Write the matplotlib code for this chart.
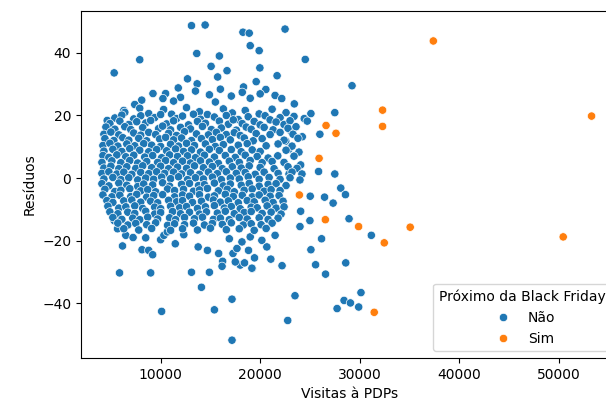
import matplotlib

matplotlib.use("Agg")
import matplotlib.pyplot as plt
import pandas as pd
import seaborn as sns

# Pontos fora do período da Black Friday: (visitas à PDP, resíduo)
nao_bordas = [
    (13100, 48.7), (14470, 48.9), (18270, 46.6), (18900, 46.3), (22500, 47.6),
    (19000, 42.3), (13630, 39.8), (7900, 37.8), (15900, 39.0), (19900, 40.7),
    (24530, 37.9), (5330, 33.6), (15070, 35.7), (16670, 34.3), (19970, 35.2),
    (15730, 32.3), (12700, 31.7), (13670, 30.1), (19600, 30.8), (21700, 32.7),
    (18330, 29.1), (29230, 29.5), (11770, 28.8), (20570, 28.3), (9230, 27.0),
    (10500, 27.0), (21500, 26.4), (8100, 24.9), (10230, 25.4), (22170, 25.4),
    (7400, 23.5), (23430, 23.7), (6300, 21.6), (25100, 20.6), (27500, 20.9),
    (4630, 18.4), (24430, 19.0), (24730, 18.2), (23100, 15.0), (24230, 13.2),
    (26000, 14.0), (22570, 11.8), (22870, 9.2), (21770, 7.1), (24070, 4.2),
    (25870, 2.1), (27500, 1.3), (22900, 1.3), (28100, -3.2), (28570, -5.3),
    (26470, -6.1), (27330, -8.0), (25030, -5.8), (24070, -10.6), (25000, -13.6),
    (24000, -15.5), (28930, -13.0), (31170, -18.3), (26170, -19.4), (25100, -22.9),
    (22200, -28.0), (21070, -25.9), (25570, -27.7), (28600, -27.1), (26570, -30.7),
    (23500, -37.6), (30130, -36.6), (28430, -39.1), (29070, -39.9), (27730, -41.7),
    (29900, -41.2), (22770, -45.5), (17170, -38.7), (17170, -51.8), (19200, -28.9),
    (18000, -27.8), (6170, -21.7), (5870, -30.3), (9000, -30.3), (10100, -42.6),
    (11470, -21.0), (13100, -30.1), (14900, -30.1), (14100, -34.9), (15400, -42.1),
    (13770, -22.0), (14700, -23.1), (8130, -22.9), (8800, -23.1), (9200, -24.5),
    (5670, -16.2), (6500, -18.3), (7230, -19.0), (8500, -19.1), (10000, -19.7),
    (10330, -18.3), (12330, -18.1), (5330, -13.6), (15830, -24.1), (16230, -26.6),
    (16170, -28.2), (17270, -24.1), (17500, -26.8), (18430, -27.1), (19170, -28.8),
    (16900, -19.4), (10670, -17.2), (19430, -25.5), (17670, -22.5), (18830, -23.1),
    (20170, -19.9), (20670, -22.0), (18170, -20.4), (19000, -18.8), (21500, -18.3),
    (12000, 25.8), (14900, 26.6), (17100, 26.2), (19000, 25.5), (13500, 27.8),
    (16000, 28.4), (18200, 27.4), (20000, 26.9), (11300, 24.6), (15500, 24.3),
]

# Núcleo denso, em milhares de visitas
nao_nucleo = [
    (6.4, 21.0), (7.9, 22.3), (8.8, 20.6), (10.3, 21.9), (11.1, 20.4), (12.6, 22.5),
    (13.9, 21.2), (14.7, 20.3), (16.3, 22.1), (17.2, 20.8), (18.5, 21.6), (19.9, 20.5),
    (21.2, 22.0), (22.6, 20.9),
    (5.4, 19.2), (6.1, 20.1), (7.3, 18.9), (8.0, 19.9), (9.4, 19.3), (10.0, 20.3),
    (11.6, 19.0), (12.2, 19.8), (13.3, 20.4), (14.0, 18.8), (15.4, 19.5), (16.6, 20.0),
    (17.8, 18.7), (18.8, 19.6), (20.5, 19.9), (21.0, 18.6), (22.0, 19.3), (23.4, 19.7),
    (4.9, 17.4), (5.9, 18.2), (6.8, 17.1), (7.6, 18.0), (8.5, 17.6), (9.0, 18.4),
    (10.6, 17.3), (11.3, 18.3), (12.8, 17.0), (13.7, 18.1), (14.5, 17.5), (15.9, 18.2),
    (16.8, 17.2), (17.3, 18.6), (18.2, 17.4), (19.4, 18.1), (20.0, 17.0), (21.6, 17.9),
    (22.4, 17.1), (23.0, 18.3),
    (4.5, 16.3), (5.4, 15.6), (6.4, 16.4), (7.0, 15.5), (8.2, 16.1), (9.8, 15.8),
    (10.2, 16.6), (11.0, 15.4), (12.0, 16.2), (13.0, 15.7), (14.2, 16.5), (15.1, 15.5),
    (16.1, 16.0), (17.6, 15.3), (18.6, 16.3), (19.1, 15.6), (20.4, 16.2), (21.3, 15.4),
    (22.8, 15.9), (23.6, 16.4),
    (4.3, 14.0), (5.0, 14.7), (5.8, 13.8), (7.3, 14.4), (8.0, 13.7), (8.8, 14.6),
    (9.5, 13.9), (10.8, 14.3), (11.6, 13.6), (12.4, 14.8), (13.6, 14.1), (14.8, 13.8),
    (15.6, 14.6), (16.6, 13.9), (17.4, 14.5), (18.0, 13.6), (19.6, 14.2), (21.0, 13.9),
    (22.0, 14.6), (23.3, 14.0),
    (4.4, 12.6), (5.3, 12.0), (6.2, 12.9), (6.8, 12.1), (7.8, 12.7), (8.6, 11.9),
    (9.9, 12.5), (10.5, 13.0), (11.3, 12.2), (12.1, 12.8), (13.1, 12.0), (14.1, 12.6),
    (15.2, 12.3), (16.0, 13.0), (17.0, 12.2), (18.4, 12.8), (19.3, 11.9), (20.2, 12.6),
    (22.4, 12.1), (23.8, 12.7),
    (4.2, 10.4), (4.9, 11.1), (5.7, 10.2), (6.6, 10.9), (7.4, 10.3), (8.3, 11.0),
    (9.1, 10.5), (10.0, 10.1), (11.0, 10.8), (11.8, 10.2), (12.6, 11.1), (13.4, 10.4),
    (14.5, 10.9), (15.5, 10.1), (16.3, 10.7), (17.8, 10.5), (18.7, 11.0), (20.6, 10.3),
    (21.8, 10.9), (23.2, 10.2),
    (4.3, 8.6), (5.2, 9.2), (6.1, 8.5), (6.9, 9.4), (7.9, 8.9), (8.8, 8.4),
    (9.6, 9.1), (10.6, 8.7), (11.5, 9.3), (12.3, 8.5), (13.1, 9.0), (14.0, 8.3),
    (14.9, 9.2), (15.9, 8.8), (17.1, 9.1), (18.1, 8.4), (19.2, 9.0), (20.0, 8.5),
    (22.6, 8.9), (23.9, 8.3),
    (4.2, 7.2), (4.8, 6.6), (5.6, 7.4), (6.5, 6.8), (7.3, 7.3), (8.4, 6.7),
    (9.2, 7.2), (10.1, 6.5), (10.9, 7.4), (11.7, 6.9), (12.7, 7.1), (13.5, 6.5),
    (14.4, 7.3), (15.4, 6.7), (16.5, 7.2), (17.5, 6.6), (18.5, 7.3), (19.7, 6.9),
    (20.8, 6.4), (23.4, 7.0),
    (4.1, 5.0), (5.1, 5.5), (6.0, 4.9), (6.9, 5.6), (7.7, 4.8), (8.6, 5.3),
    (9.7, 5.0), (10.5, 5.6), (11.3, 4.9), (12.2, 5.4), (13.0, 4.8), (14.0, 5.5),
    (14.9, 5.1), (15.8, 4.7), (16.9, 5.4), (17.9, 5.0), (19.0, 5.6), (20.2, 4.9),
    (21.2, 5.3), (22.4, 5.0),
    (4.3, 3.2), (5.0, 3.8), (5.8, 3.0), (6.6, 3.6), (7.5, 3.1), (8.2, 3.9),
    (9.1, 3.3), (10.0, 3.8), (10.8, 3.0), (11.7, 3.5), (12.6, 3.1), (13.4, 3.9),
    (14.3, 3.3), (15.2, 3.7), (16.2, 3.0), (17.2, 3.6), (18.1, 3.2), (18.9, 3.9),
    (20.0, 3.4), (21.4, 3.0), (22.8, 3.6), (23.7, 3.1),
    (4.1, 1.5), (4.8, 2.0), (5.6, 1.3), (6.3, 1.9), (7.1, 1.2), (8.0, 1.8),
    (8.8, 1.4), (9.6, 2.0), (10.4, 1.5), (11.3, 1.9), (12.1, 1.3), (13.0, 1.7),
    (13.9, 1.2), (14.8, 1.9), (15.7, 1.4), (16.6, 2.0), (17.6, 1.5), (18.5, 1.8),
    (19.5, 1.2), (20.4, 1.9), (21.8, 1.5), (23.2, 1.9), (24.2, 1.3),
    (4.3, -0.3), (5.2, 0.2), (6.0, -0.5), (6.8, 0.1), (7.7, -0.6), (8.5, 0.0),
    (9.3, -0.4), (10.1, 0.3), (11.0, -0.2), (11.8, 0.4), (12.7, -0.5), (13.5, 0.1),
    (14.3, -0.3), (15.2, 0.3), (16.1, -0.5), (17.0, 0.0), (17.9, -0.3), (18.8, 0.4),
    (19.9, -0.4), (20.9, 0.2), (22.0, -0.4), (23.0, 0.1), (24.0, -0.6),
    (4.1, -1.8), (4.8, -2.5), (5.8, -1.6), (6.6, -2.3), (7.7, -2.7), (8.3, -1.9),
    (9.2, -2.2), (10.2, -1.5), (10.9, -2.6), (12.1, -2.0), (12.9, -1.7), (13.8, -2.4),
    (14.4, -2.1), (15.4, -1.6), (16.3, -2.5), (17.0, -1.9), (18.1, -2.3), (18.9, -1.7),
    (19.9, -2.6), (20.8, -2.0), (21.6, -1.8), (22.6, -2.4),
    (4.4, -3.6), (5.4, -4.3), (6.0, -3.9), (6.9, -3.4), (8.0, -4.1), (8.7, -3.7),
    (9.5, -4.4), (10.7, -3.5), (11.4, -4.0), (12.3, -3.6), (13.3, -4.2), (13.9, -3.8),
    (14.7, -3.3), (15.8, -4.1), (16.7, -3.6), (17.4, -4.4), (18.4, -3.9), (19.2, -3.5),
    (20.4, -4.2), (21.1, -3.7), (22.0, -4.0),
    (4.2, -5.4), (5.1, -6.0), (5.9, -5.5), (7.0, -5.9), (7.6, -5.2), (8.6, -6.1),
    (9.3, -5.6), (10.2, -5.3), (11.4, -6.0), (12.2, -5.4), (12.9, -5.8), (13.9, -5.3),
    (14.8, -6.1), (15.4, -5.7), (16.5, -5.2), (17.3, -5.9), (18.2, -5.5), (19.2, -6.0),
    (19.9, -5.4), (21.0, -5.8), (21.9, -5.6),
    (4.6, -7.2), (5.2, -7.8), (6.3, -7.3), (7.1, -7.0), (8.0, -7.7), (9.0, -7.4),
    (9.7, -7.9), (10.8, -7.1), (11.6, -7.6), (12.2, -7.2), (13.2, -7.8), (14.1, -7.4),
    (15.3, -7.0), (16.0, -7.7), (16.8, -7.3), (17.8, -7.9), (18.7, -7.2), (19.4, -7.6),
    (20.5, -7.1), (21.3, -7.8), (22.3, -7.4),
    (4.7, -9.0), (5.8, -9.6), (6.5, -9.2), (7.4, -8.9), (8.2, -9.7), (9.4, -9.3),
    (10.0, -9.8), (11.0, -9.0), (11.9, -9.5), (12.6, -9.1), (13.7, -9.7), (14.5, -9.2),
    (15.4, -8.8), (16.4, -9.6), (17.1, -9.1), (18.0, -9.8), (19.1, -9.3), (19.7, -9.5),
    (20.7, -8.9), (21.6, -9.6), (22.4, -9.2),
    (4.9, -10.8), (5.7, -11.4), (6.7, -10.9), (7.4, -11.3), (8.5, -10.6), (9.4, -11.5),
    (10.0, -11.0), (11.2, -10.7), (12.0, -11.4), (12.9, -10.9), (13.9, -11.5), (14.6, -10.8),
    (15.7, -11.2), (16.5, -10.6), (17.4, -11.4), (18.4, -11.0), (19.1, -10.7), (20.2, -11.3),
    (21.1, -10.9), (22.1, -11.5),
    (5.2, -12.6), (6.1, -13.2), (7.2, -12.8), (7.9, -13.3), (8.7, -12.5), (9.7, -13.1),
    (10.9, -12.7), (11.5, -13.3), (12.4, -12.6), (13.4, -13.0), (14.2, -12.5), (15.3, -13.2),
    (16.0, -12.8), (16.9, -13.3), (17.9, -12.6), (18.7, -13.1), (19.9, -12.7), (20.8, -13.2),
    (21.8, -12.8),
    (5.7, -14.4), (6.7, -15.0), (7.5, -14.5), (8.6, -14.9), (9.5, -14.3), (10.7, -15.1),
    (11.4, -14.6), (12.4, -14.9), (13.3, -14.4), (14.4, -15.0), (15.2, -14.5), (16.2, -14.8),
    (17.1, -14.3), (18.3, -15.0), (19.1, -14.6), (20.1, -14.9), (21.2, -14.4),
    (6.3, -16.2), (7.8, -16.6), (9.1, -16.1), (11.0, -16.7), (12.2, -16.2), (13.7, -16.6),
    (15.0, -16.0), (16.6, -16.5), (17.9, -16.2), (19.4, -16.7), (20.6, -16.1),
]

# Semanas próximas da Black Friday
visitas_sim = [37400, 53300, 35075, 50450, 26620, 27620, 32300, 32300,
               25920, 23940, 26550, 29890, 32470, 31460]
residuos_sim = [43.8, 19.8, -15.7, -18.8, 16.8, 14.3, 21.7, 16.5,
                6.3, -5.4, -13.3, -15.5, -20.7, -42.9]

visitas_nao = [v for v, _ in nao_bordas] + [v * 1000 for v, _ in nao_nucleo]
residuos_nao = [r for _, r in nao_bordas] + [r for _, r in nao_nucleo]

df = pd.DataFrame({
    "Visitas à PDPs": visitas_nao + visitas_sim,
    "Resíduos": residuos_nao + residuos_sim,
    "Próximo da Black Friday": ["Não"] * len(visitas_nao) + ["Sim"] * len(visitas_sim),
})

fig = plt.figure(figsize=(6.06, 4.08), dpi=100)
ax = fig.add_axes([0.1337, 0.1225, 0.886, 0.8515])

sns.scatterplot(
    data=df,
    x="Visitas à PDPs",
    y="Resíduos",
    hue="Próximo da Black Friday",
    hue_order=["Não", "Sim"],
    ax=ax,
)
ax.set_xlim(2000, 55950)
ax.set_ylim(-57.5, 53.5)
sns.move_legend(ax, "lower right")

fig.savefig("out.png", dpi=100)
